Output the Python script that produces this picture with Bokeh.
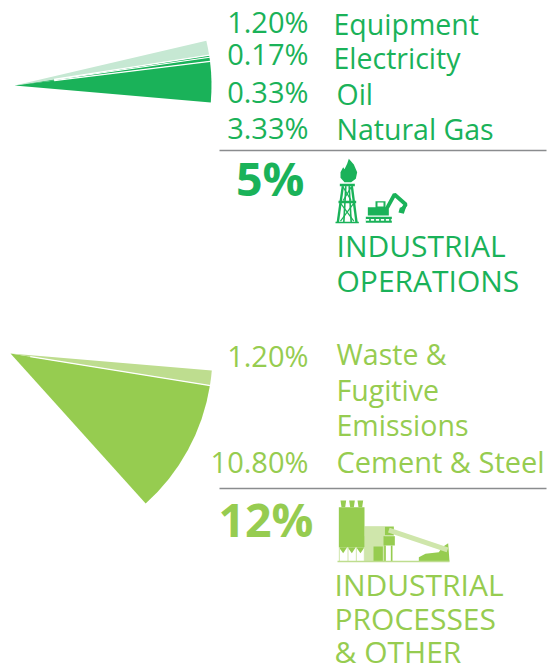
from math import radians, cos, sin
from bokeh.plotting import figure
from bokeh.embed import file_html
from bokeh.resources import INLINE
from bokeh.core.properties import value

ops_labels = ["Natural Gas", "Oil", "Electricity", "Equipment"]
ops_values = [3.33, 0.33, 0.17, 1.20]
ops_pct = ["3.33%", "0.33%", "0.17%", "1.20%"]
proc_labels = ["Cement & Steel", "Waste &"]
proc_values = [10.80, 1.20]
proc_pct = ["10.80%", "1.20%"]

DARK, PALE_D = "#1AB259", "#C6E8D3"
LIGHT, PALE_L = "#96CC50", "#BEDD8F"
FONT = "Open Sans"
W, H = 547, 671

p = figure(width=W, height=H, x_range=(0, W), y_range=(0, H), output_backend="svg",
           toolbar_location=None, min_border=0, outline_line_color=None)
p.axis.visible = False
p.grid.visible = False

def Y(py):
    return 671 - py

def fan(cx, cy, r, start_deg, vals, cols, r0):
    a = start_deg
    edges = []
    for v, c in zip(vals, cols):
        sweep = v * 3.6
        p.wedge(x=[cx], y=[Y(cy)], radius=r, start_angle=radians(a), end_angle=radians(a + sweep),
                fill_color=c, line_color=None)
        a += sweep
        edges.append(a)
    for e in edges[:-1]:
        t = radians(e)
        p.line(x=[cx + r0 * cos(t), cx + (r + 2) * cos(t)], y=[Y(cy) + r0 * sin(t), Y(cy) + (r + 2) * sin(t)],
               line_color="white", line_width=1.2)

fan(14, 85, 197, -4.95, ops_values, [DARK, DARK, DARK, PALE_D], 40)
fan(10, 353, 202, -48.0, proc_values, [LIGHT, PALE_L], 20)

def txt(px, py, s, col, size, align="left", bold=False):
    p.text(x=[px], y=[Y(py - 0.42 * size)], text=[s], text_color=col, text_font=value(FONT),
           text_font_size=f"{size}px", text_align=align, text_baseline="alphabetic",
           text_font_style="bold" if bold else "normal")

S, C, B = 28.5, 30, 46.5
P = 29
for s, py in zip(ops_pct, [139, 103, 65, 33]):
    txt(308, py, s, DARK, P, "right")
for s, px, py in zip(ops_labels, [336, 336, 333, 333], [140, 105, 69, 35]):
    txt(px, py, s, DARK, S)
txt(308, 473, proc_pct[0], LIGHT, P, "right")
txt(308, 367, proc_pct[1], LIGHT, P, "right")
txt(336, 473, proc_labels[0], LIGHT, 29)
txt(336, 365, proc_labels[1], LIGHT, S)
txt(336, 401, "Fugitive", LIGHT, S)
txt(336, 436, "Emissions", LIGHT, S)

txt(304, 197, "5%", DARK, B, "right", True)
txt(313, 538, "12%", LIGHT, B, "right", True)
txt(336, 258, "INDUSTRIAL", DARK, C)
txt(336, 293, "OPERATIONS", DARK, C)
txt(334, 597, "INDUSTRIAL", LIGHT, C)
txt(334, 631, "PROCESSES", LIGHT, C)
txt(334, 664, "& OTHER", LIGHT, C)

for py in (150, 488):
    p.line(x=[219, 546], y=[Y(py), Y(py)], line_color="#8A8C8E", line_width=1.5)

# icons, traced on a 3x grid
def poly(ox, oy, pts, col):
    p.patch(x=[ox + a / 3 for a, b in pts], y=[Y(oy + b / 3) for a, b in pts], fill_color=col, line_color=None)

def rect(ox, oy, x0, y0, x1, y1, col):
    poly(ox, oy, [(x0, y0), (x1, y0), (x1, y1), (x0, y1)], col)

def seg(ox, oy, pts, col, w):
    p.line(x=[ox + a / 3 for a, b in pts], y=[Y(oy + b / 3) for a, b in pts], line_color=col, line_width=w)

ox, oy = 320, 150
poly(ox, oy, [(85, 25), (100, 42), (110, 65), (106, 85), (92, 95), (72, 95), (60, 82), (60, 65), (68, 50), (72, 56), (80, 40)], DARK)
rect(ox, oy, 58, 100, 103, 107, DARK)
rect(ox, oy, 54, 151, 107, 158, DARK)
rect(ox, oy, 45, 214, 115, 218, DARK)
seg(ox, oy, [(67, 107), (52, 215)], DARK, 2.4)
seg(ox, oy, [(94, 107), (108, 215)], DARK, 2.4)
seg(ox, oy, [(76, 107), (70, 215)], DARK, 1.6)
seg(ox, oy, [(86, 107), (92, 215)], DARK, 1.6)
seg(ox, oy, [(68, 110), (92, 150)], DARK, 1.2)
seg(ox, oy, [(92, 110), (68, 150)], DARK, 1.2)
seg(ox, oy, [(60, 158), (100, 212)], DARK, 1.2)
seg(ox, oy, [(100, 158), (60, 212)], DARK, 1.2)
poly(ox, oy, [(142, 170), (165, 170), (165, 152), (195, 152), (195, 170), (205, 165), (205, 195), (142, 195)], DARK)
rect(ox, oy, 171, 156, 189, 168, "white")
seg(ox, oy, [(200, 172), (222, 132), (256, 162), (242, 182)], DARK, 3.8)
poly(ox, oy, [(238, 172), (258, 165), (250, 190), (234, 186)], DARK)
seg(ox, oy, [(136, 208), (214, 208)], DARK, 6)
seg(ox, oy, [(136, 208), (214, 208)], "white", 1.8)
for a in range(146, 212, 15):
    rect(ox, oy, a, 204, a + 5, 212, DARK)

ox, oy = 325, 490
rect(ox, oy, 117, 107, 178, 212, "#CFE6AB")
rect(ox, oy, 102, 137, 117, 170, "#CFE6AB")
rect(ox, oy, 40, 50, 117, 170, LIGHT)
for a in (45, 71, 96):
    poly(ox, oy, [(a, 30), (a + 17, 30), (a + 14, 50), (a + 3, 50)], LIGHT)
for a in (40, 66, 92):
    poly(ox, oy, [(a, 170), (a + 25, 170), (a + 13, 188)], LIGHT)
for a in (40, 66, 91, 115):
    rect(ox, oy, a, 170, a + 3, 212, "#CFE6AB")
rect(ox, oy, 144, 168, 172, 212, LIGHT)
rect(ox, oy, 178, 108, 205, 135, LIGHT)
rect(ox, oy, 174, 137, 208, 165, LIGHT)
rect(ox, oy, 176, 165, 181, 212, LIGHT)
rect(ox, oy, 196, 165, 201, 212, LIGHT)
poly(ox, oy, [(280, 212), (280, 200), (300, 190), (340, 185), (350, 170), (368, 158), (372, 212)], LIGHT)
seg(ox, oy, [(190, 119), (366, 178)], "#CFE6AB", 5)
rect(ox, oy, 36, 211, 372, 215, "#BEDD8F")

open("out.html", "w").write(file_html(p, INLINE))
